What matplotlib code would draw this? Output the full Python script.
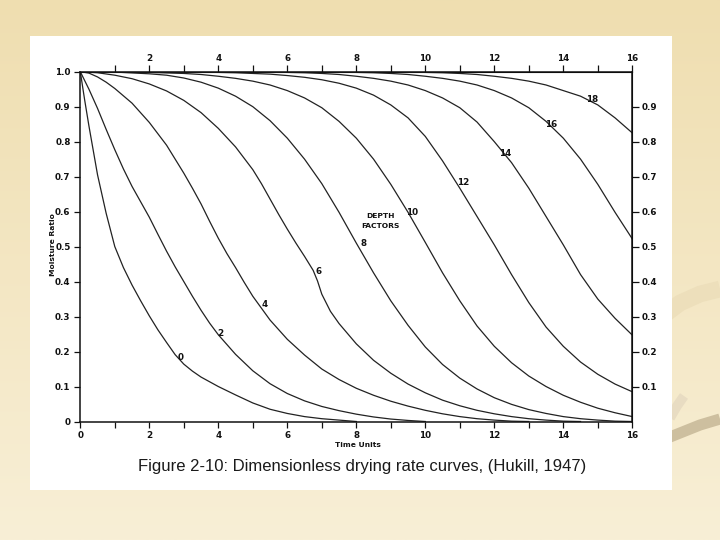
import numpy as np
import matplotlib.pyplot as plt
from matplotlib.patches import Rectangle
from matplotlib.ticker import FixedLocator, NullFormatter

# moisture ratio vs time units, one pair per depth factor
t_d0 = [0, 0.125, 0.25, 0.5, 0.75, 1.0, 1.25, 1.5, 1.75, 2.0, 2.25, 2.5, 2.75, 3.0,
        3.25, 3.5, 4.0, 4.5, 5.0, 5.5, 6.0, 6.5, 7.0, 7.5, 8.0]
mr_d0 = [1.0, 0.92, 0.845, 0.705, 0.595, 0.50, 0.44, 0.39, 0.345, 0.302, 0.262, 0.226,
         0.191, 0.164, 0.144, 0.127, 0.100, 0.076, 0.053, 0.035, 0.023, 0.014, 0.008,
         0.004, 0.0]

t_d2 = [0, 0.25, 0.5, 0.75, 1.0, 1.25, 1.5, 1.75, 2.0, 2.25, 2.5, 2.75, 3.0, 3.25,
        3.5, 3.75, 4.0, 4.5, 5.0, 5.5, 6.0, 6.5, 7.0, 7.5, 8.0, 8.5, 9.0, 9.5, 10.0]
mr_d2 = [1.0, 0.95, 0.895, 0.835, 0.777, 0.722, 0.672, 0.628, 0.584, 0.535, 0.487,
         0.442, 0.40, 0.358, 0.318, 0.281, 0.248, 0.192, 0.145, 0.108, 0.080, 0.059,
         0.043, 0.031, 0.021, 0.013, 0.007, 0.003, 0.0]

t_d4 = [0, 0.25, 0.5, 0.75, 1.0, 1.5, 2.0, 2.5, 3.0, 3.25, 3.5, 3.75, 4.0, 4.25, 4.5,
        4.75, 5.0, 5.5, 6.0, 6.5, 7.0, 7.5, 8.0, 8.5, 9.0, 9.5, 10.0, 10.5, 11.0, 11.5,
        12.0, 12.5, 13.0]
mr_d4 = [1.0, 0.996, 0.985, 0.97, 0.952, 0.91, 0.855, 0.79, 0.71, 0.667, 0.622, 0.572,
         0.524, 0.48, 0.44, 0.398, 0.358, 0.29, 0.235, 0.19, 0.15, 0.12, 0.095, 0.075,
         0.058, 0.044, 0.032, 0.022, 0.014, 0.008, 0.004, 0.001, 0.0]

t_d6 = [0, 0.5, 1, 1.5, 2, 2.5, 3, 3.5, 4, 4.5, 5, 5.25, 5.5, 5.75, 6, 6.25, 6.5, 6.75,
        6.875, 7, 7.25, 7.5, 8, 8.5, 9, 9.5, 10, 10.5, 11, 11.5, 12, 12.5, 13, 13.5, 14,
        14.5]
mr_d6 = [1.0, 0.997, 0.99, 0.98, 0.965, 0.945, 0.918, 0.883, 0.838, 0.785, 0.72, 0.68,
         0.636, 0.592, 0.55, 0.51, 0.472, 0.432, 0.402, 0.364, 0.315, 0.28, 0.222, 0.175,
         0.138, 0.107, 0.082, 0.061, 0.045, 0.032, 0.022, 0.014, 0.008, 0.004, 0.001, 0.0]

t_d8 = [0, 1, 2, 2.5, 3, 3.5, 4, 4.5, 5, 5.5, 6, 6.5, 7, 7.5, 8, 8.5, 9, 9.5, 10, 10.5,
        11, 11.5, 12, 12.5, 13, 13.5, 14, 14.5, 15, 15.5, 16]
mr_d8 = [1.0, 0.999, 0.994, 0.99, 0.982, 0.97, 0.953, 0.93, 0.90, 0.86, 0.81, 0.75, 0.68,
         0.598, 0.51, 0.425, 0.345, 0.275, 0.213, 0.163, 0.124, 0.093, 0.068, 0.049,
         0.034, 0.023, 0.014, 0.008, 0.004, 0.001, 0.0]

t_d10 = [0, 1, 2, 3, 3.5, 4, 4.5, 5, 5.5, 6, 6.5, 7, 7.5, 8, 8.5, 9, 9.5, 10, 10.5, 11,
         11.5, 12, 12.5, 13, 13.5, 14, 14.5, 15, 15.5, 16]
mr_d10 = [1.0, 1.0, 0.998, 0.995, 0.992, 0.987, 0.981, 0.973, 0.962, 0.946, 0.925, 0.897,
          0.858, 0.81, 0.75, 0.678, 0.598, 0.512, 0.425, 0.345, 0.273, 0.215, 0.168,
          0.13, 0.10, 0.075, 0.055, 0.038, 0.025, 0.014]

t_d12 = [0, 2, 3, 4, 4.5, 5, 5.5, 6, 6.5, 7, 7.5, 8, 8.5, 9, 9.5, 10, 10.5, 11, 11.5,
         12, 12.5, 13, 13.5, 14, 14.5, 15, 15.5, 16]
mr_d12 = [1.0, 1.0, 0.999, 0.998, 0.997, 0.995, 0.993, 0.989, 0.984, 0.977, 0.967, 0.953,
          0.933, 0.905, 0.868, 0.815, 0.745, 0.667, 0.586, 0.505, 0.42, 0.34, 0.27,
          0.215, 0.17, 0.135, 0.107, 0.085]

t_d14 = [0, 4, 5, 5.5, 6, 6.5, 7, 7.5, 8, 8.5, 9, 9.5, 10, 10.5, 11, 11.5, 12, 12.5, 13,
         13.5, 14, 14.5, 15, 15.5, 16]
mr_d14 = [1.0, 1.0, 1.0, 0.999, 0.998, 0.997, 0.995, 0.992, 0.987, 0.981, 0.973, 0.962,
          0.946, 0.925, 0.897, 0.856, 0.80, 0.74, 0.667, 0.586, 0.505, 0.42, 0.35,
          0.295, 0.247]

t_d16 = [0, 6, 7, 7.5, 8, 8.5, 9, 9.5, 10, 10.5, 11, 11.5, 12, 12.5, 13, 13.5, 14,
         14.5, 15, 15.5, 16]
mr_d16 = [1.0, 1.0, 1.0, 0.999, 0.998, 0.997, 0.995, 0.992, 0.987, 0.981, 0.973, 0.962,
          0.946, 0.925, 0.897, 0.858, 0.81, 0.75, 0.678, 0.598, 0.522]

t_d18 = [0, 8, 9, 9.5, 10, 10.5, 11, 11.5, 12, 12.5, 13, 13.5, 14, 14.5, 15, 15.5, 16]
mr_d18 = [1.0, 1.0, 1.0, 0.999, 0.998, 0.997, 0.995, 0.992, 0.987, 0.981, 0.973, 0.962,
          0.946, 0.93, 0.905, 0.868, 0.825]

curves = [(t_d0, mr_d0), (t_d2, mr_d2), (t_d4, mr_d4), (t_d6, mr_d6), (t_d8, mr_d8),
          (t_d10, mr_d10), (t_d12, mr_d12), (t_d14, mr_d14), (t_d16, mr_d16),
          (t_d18, mr_d18)]
depth_labels = ['0', '2', '4', '6', '8', '10', '12', '14', '16', '18']
# where each depth label sits (time, moisture ratio)
label_t = [2.92, 4.07, 5.35, 6.92, 8.2, 9.63, 11.1, 12.31, 13.65, 14.83]
label_mr = [0.182, 0.252, 0.334, 0.428, 0.508, 0.597, 0.682, 0.765, 0.848, 0.92]

bottom_ticks = [0, 2, 4, 6, 8, 10, 12, 14, 16]
top_ticks = [2, 4, 6, 8, 10, 12, 14, 16]
odd_ticks = [1, 3, 5, 7, 9, 11, 13, 15]
left_ticks = [0, 0.1, 0.2, 0.3, 0.4, 0.5, 0.6, 0.7, 0.8, 0.9, 1.0]
left_labels = ['0', '0.1', '0.2', '0.3', '0.4', '0.5', '0.6', '0.7', '0.8', '0.9', '1.0']
right_ticks = [0.1, 0.2, 0.3, 0.4, 0.5, 0.6, 0.7, 0.8, 0.9]

W, H = 720, 540
fig = plt.figure(figsize=(7.2, 5.4), dpi=100)

# slide background: cream gradient
bg = fig.add_axes([0, 0, 1, 1], zorder=-10)
grad = np.linspace(0, 1, 256).reshape(-1, 1)
top_col = np.array([239, 222, 176]) / 255
bot_col = np.array([248, 239, 214]) / 255
img = top_col * (1 - grad[..., None]) + bot_col * grad[..., None]
bg.imshow(img, aspect='auto', extent=[0, W, H, 0])
# decorative swooshes on the right
bg.plot([660, 680, 700, 720], [318, 303, 294, 289], color='#eddfbb', lw=12,
        solid_capstyle='butt')
bg.plot([660, 680, 700, 720], [441, 433, 425, 419], color='#cdbf9f', lw=8,
        solid_capstyle='butt')
bg.plot([670, 677, 684], [418, 406, 396], color='#e8dcc2', lw=7, solid_capstyle='butt')
bg.set_xlim(0, W)
bg.set_ylim(H, 0)
bg.axis('off')

# white scanned page
fig.patches.append(Rectangle((30 / W, 1 - 490 / H), (672 - 30) / W, (490 - 36) / H,
                             transform=fig.transFigure, facecolor='white',
                             edgecolor='none', zorder=-5))

x0, x1 = 80.3, 632.3
y0, y1 = 421.5, 71.7
ax = fig.add_axes([x0 / W, 1 - y0 / H, (x1 - x0) / W, (y0 - y1) / H])
ax.set_facecolor('none')

for t, mr in curves:
    ax.plot(t, mr, color='#222222', lw=0.9)

num_font = dict(fontsize=6.3, fontweight='bold', color='#111111')
word_font = dict(fontsize=5.4, fontweight='bold', color='#111111')
for lab, t, m in zip(depth_labels, label_t, label_mr):
    ax.text(t, m, lab, ha='center', va='center', **num_font)
ax.text(8.69, 0.588, 'DEPTH', ha='center', va='center', **word_font)
ax.text(8.69, 0.560, 'FACTORS', ha='center', va='center', **word_font)

ax.set_xlim(0, 16)
ax.set_ylim(0, 1.0)
for s in ax.spines.values():
    s.set_linewidth(1.1)
    s.set_color('#111111')

ax.set_xticks(bottom_ticks)
ax.set_xticklabels([str(v) for v in bottom_ticks], **num_font)
ax.xaxis.set_minor_locator(FixedLocator(odd_ticks))
ax.set_yticks(left_ticks)
ax.set_yticklabels(left_labels, **num_font)
ax.tick_params(which='both', direction='out', length=4, width=0.9, pad=3, color='#111111')

top = ax.secondary_xaxis('top')
top.set_xticks(top_ticks)
top.set_xticklabels([str(v) for v in top_ticks], **num_font)
top.xaxis.set_minor_locator(FixedLocator(odd_ticks))
top.xaxis.set_minor_formatter(NullFormatter())
top.tick_params(which='both', direction='out', length=5, width=0.9, pad=1.5, color='#111111')

right = ax.secondary_yaxis('right')
right.set_yticks(right_ticks)
right.set_yticklabels([str(v) for v in right_ticks], **num_font)
right.tick_params(direction='out', length=5, width=0.9, pad=2, color='#111111')

fig.text(358 / W, 1 - 445 / H, 'Time Units', ha='center', va='center', **word_font)
fig.text(53 / W, 1 - 245 / H, 'Moisture Ratio', ha='center', va='center',
         rotation=90, **word_font)

fig.text(362 / W, 1 - 466 / H, 'Figure 2-10: Dimensionless drying rate curves, (Hukill, 1947)',
         ha='center', va='center', fontsize=12, family='Liberation Sans', color='#1a1a1a')

fig.savefig('out.png', dpi=100)
